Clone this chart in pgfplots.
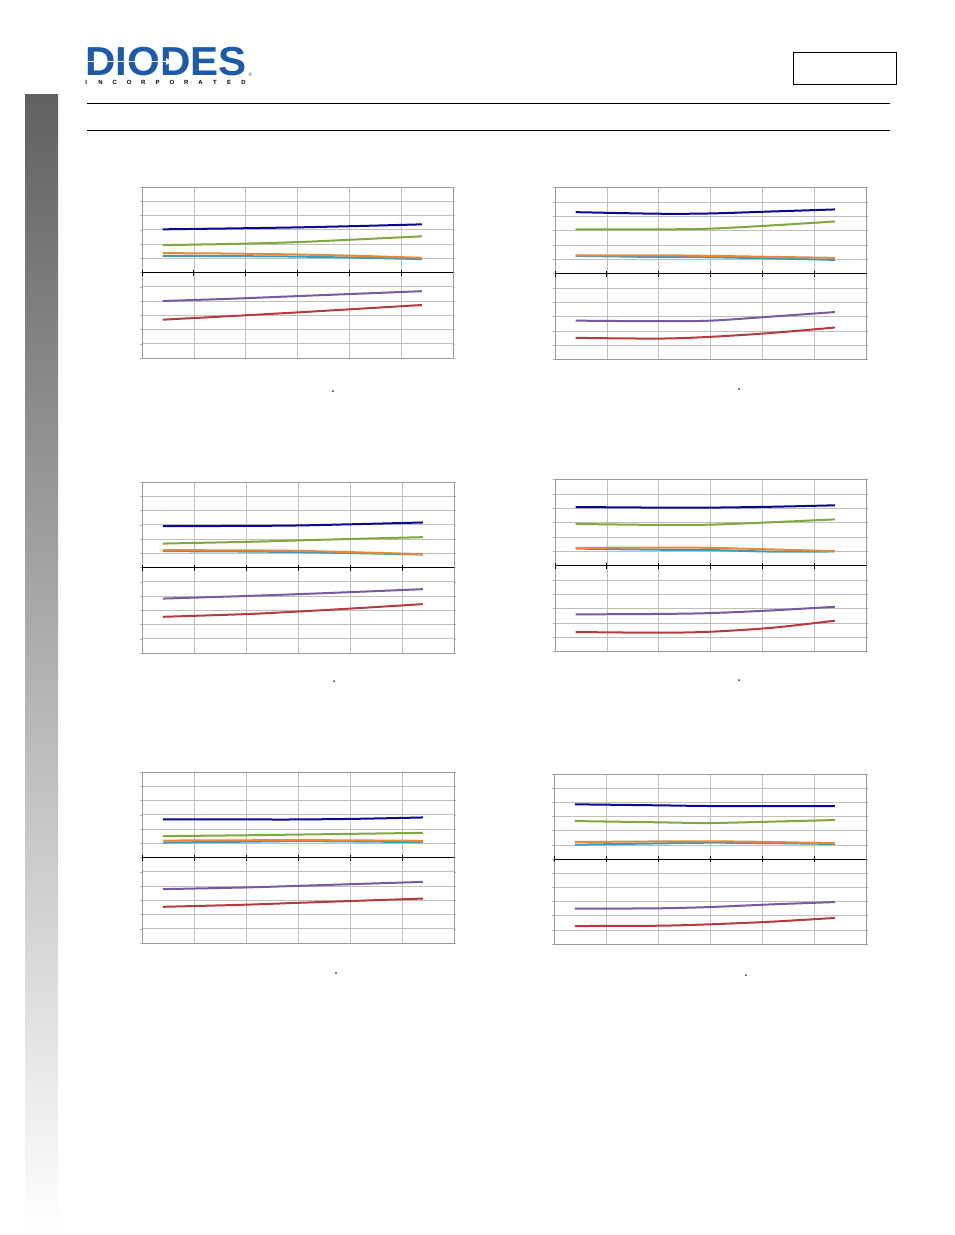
\documentclass[border=0pt]{standalone}
\usepackage{pgfplots}
\pgfplotsset{compat=1.18}
\usepackage{pgfplotstable}
\usepackage{fontspec}
\setmainfont{Liberation Sans}

\definecolor{logoblue}{HTML}{1F5AA6}
\definecolor{cnavy}{HTML}{0A0A8C}
\definecolor{cgreen}{HTML}{7FA843}
\definecolor{corange}{HTML}{E8883A}
\definecolor{ccyan}{HTML}{3A9CBC}
\definecolor{cpurple}{HTML}{765C9E}
\definecolor{cred}{HTML}{B43C3C}

% one table per panel: x, then the six curves
\pgfplotstableread{
x    navy  green  orange cyan  purple red
0.40 3.03  1.92   1.36   1.17  -2.00  -3.31
1.65 3.09  2.00   1.33   1.15  -1.85  -3.07
2.90 3.16  2.12   1.27   1.12  -1.67  -2.82
4.15 3.26  2.32   1.17   1.04  -1.49  -2.55
5.40 3.38  2.54   1.03   0.94  -1.31  -2.28
}\panelA
\pgfplotstableread{
x    navy  green  orange cyan  purple red
0.40 4.28  3.08   1.27   1.23  -3.29  -4.49
2.00 4.17  3.08   1.27   1.15  -3.33  -4.54
3.00 4.19  3.13   1.23   1.13  -3.29  -4.42
4.20 4.33  3.36   1.16   1.05  -3.00  -4.14
5.40 4.47  3.63   1.09   0.95  -2.69  -3.77
}\panelB
\pgfplotstableread{
x    navy  green  orange cyan  purple red
0.40 2.90  1.68   1.22   1.15  -2.18  -3.46
2.00 2.92  1.80   1.20   1.12  -2.00  -3.27
3.00 2.95  1.90   1.17   1.08  -1.87  -3.09
4.20 3.05  2.02   1.06   1.00  -1.70  -2.84
5.40 3.16  2.13   0.94   0.91  -1.52  -2.57
}\panelC
\pgfplotstableread{
x    navy  green  orange cyan  purple red
0.40 4.08  2.90   1.23   1.18  -3.41  -4.64
2.00 4.04  2.83   1.25   1.10  -3.38  -4.69
3.00 4.04  2.85   1.23   1.08  -3.32  -4.62
4.20 4.10  3.02   1.12   0.97  -3.13  -4.34
5.40 4.20  3.22   1.00   0.98  -2.88  -3.85
}\panelD
\pgfplotstableread{
x    navy  green  orange cyan  purple red
0.40 2.67  1.50   1.19   1.05  -2.22  -3.46
2.00 2.67  1.56   1.21   1.11  -2.10  -3.31
3.00 2.67  1.61   1.22   1.15  -1.99  -3.18
4.20 2.72  1.67   1.20   1.12  -1.85  -3.03
5.40 2.81  1.73   1.17   1.08  -1.71  -2.88
}\panelE
\pgfplotstableread{
x    navy  green  orange cyan  purple red
0.40 3.86  2.68   1.20   1.01  -3.51  -4.73
2.00 3.79  2.59   1.24   1.10  -3.48  -4.71
3.00 3.74  2.54   1.25   1.15  -3.39  -4.61
4.20 3.74  2.64   1.20   1.12  -3.20  -4.42
5.40 3.74  2.75   1.11   1.06  -3.04  -4.16
}\panelF

\pgfplotsset{
  panel/.style={
    scale only axis, anchor=north west,
    width=311pt, height=171pt,
    xmin=0, xmax=6, ymin=-6, ymax=6,
    xtick={0,...,6}, ytick={-6,...,6},
    xticklabels={}, yticklabels={},
    grid=major,
    major grid style={draw=gray!50, line width=0.6pt},
    axis line style={draw=gray!80, line width=0.9pt},
    xtick style={draw=none},
    ytick style={draw=gray!60, line width=0.5pt},
    tick align=outside, major tick length=2pt,
    every axis plot/.append style={smooth, no marks, line width=2pt},
  },
}
\newcommand{\curves}[1]{%
  \draw[black, line width=1pt] (axis cs:0,0) -- (axis cs:6,0);
  \pgfplotsinvokeforeach{0,...,6}{\draw[black, line width=0.8pt] (axis cs:##1,0) ++(0pt,-3pt) -- ++(0pt,6pt);}
  \addplot[cnavy]   table[y=navy]   {#1};
  \addplot[cgreen]  table[y=green]  {#1};
  \addplot[ccyan]   table[y=cyan]   {#1};
  \addplot[corange] table[y=orange] {#1};
  \addplot[cpurple] table[y=purple] {#1};
  \addplot[cred]    table[y=red]    {#1};
}

\begin{document}
\begin{tikzpicture}[x=1pt, y=1pt]
\useasboundingbox (0,0) rectangle (954,-1235);
\fill[white] (0,0) rectangle (954,-1235);

% side bar
\shade[top color=black!62, bottom color=white] (25,-94) rectangle (58,-1232);

% logo
\node[anchor=west, inner sep=0pt, text=logoblue, xscale=1.04,
      font=\fontsize{40.5}{40.5}\selectfont\bfseries] at (85,-62) {DIODES};
\draw[white, line width=1.3pt] (86,-61.5) -- (166,-61.5);
\fill[white] (166,-58) -- (172,-61.5) -- (166,-65) -- cycle;
\node[text=logoblue, font=\fontsize{5}{5}\selectfont, inner sep=0pt] at (250.5,-75) {®};
\node[anchor=west, inner sep=0pt, font=\fontsize{6}{6}\selectfont\bfseries] at (78.85,-82.5)
  {\makebox[14.3pt]{I}\makebox[14.3pt]{N}\makebox[14.3pt]{C}\makebox[14.3pt]{O}%
   \makebox[14.3pt]{R}\makebox[14.3pt]{P}\makebox[14.3pt]{O}\makebox[14.3pt]{R}%
   \makebox[14.3pt]{A}\makebox[14.3pt]{T}\makebox[14.3pt]{E}\makebox[14.3pt]{D}};

% header box and rules
\draw[black, line width=1pt] (793,-52) rectangle (896,-84);
\draw[black, line width=1.4pt] (87,-103.5) -- (890,-103.5);
\draw[black, line width=1.4pt] (87,-130.5) -- (890,-130.5);

\begin{axis}[panel, at={(142pt,-187pt)}, width=311pt, height=171pt]
\curves{\panelA}
\end{axis}
\begin{axis}[panel, at={(555pt,-187.5pt)}, width=311pt, height=172pt]
\curves{\panelB}
\end{axis}
\begin{axis}[panel, at={(142pt,-482pt)}, width=312pt, height=171pt]
\curves{\panelC}
\end{axis}
\begin{axis}[panel, at={(555pt,-479.5pt)}, width=311pt, height=172pt]
\curves{\panelD}
\end{axis}
\begin{axis}[panel, at={(142pt,-772pt)}, width=312pt, height=171pt]
\curves{\panelE}
\end{axis}
\begin{axis}[panel, at={(554pt,-774pt)}, width=312pt, height=170pt]
\curves{\panelF}
\end{axis}

% leftover marks of the axis titles
\foreach \p in {(333,-391),(739,-389),(334,-681),(739,-680),(336,-973),(746,-975)}
  \fill[black!80] \p circle (1pt);
\end{tikzpicture}
\end{document}
